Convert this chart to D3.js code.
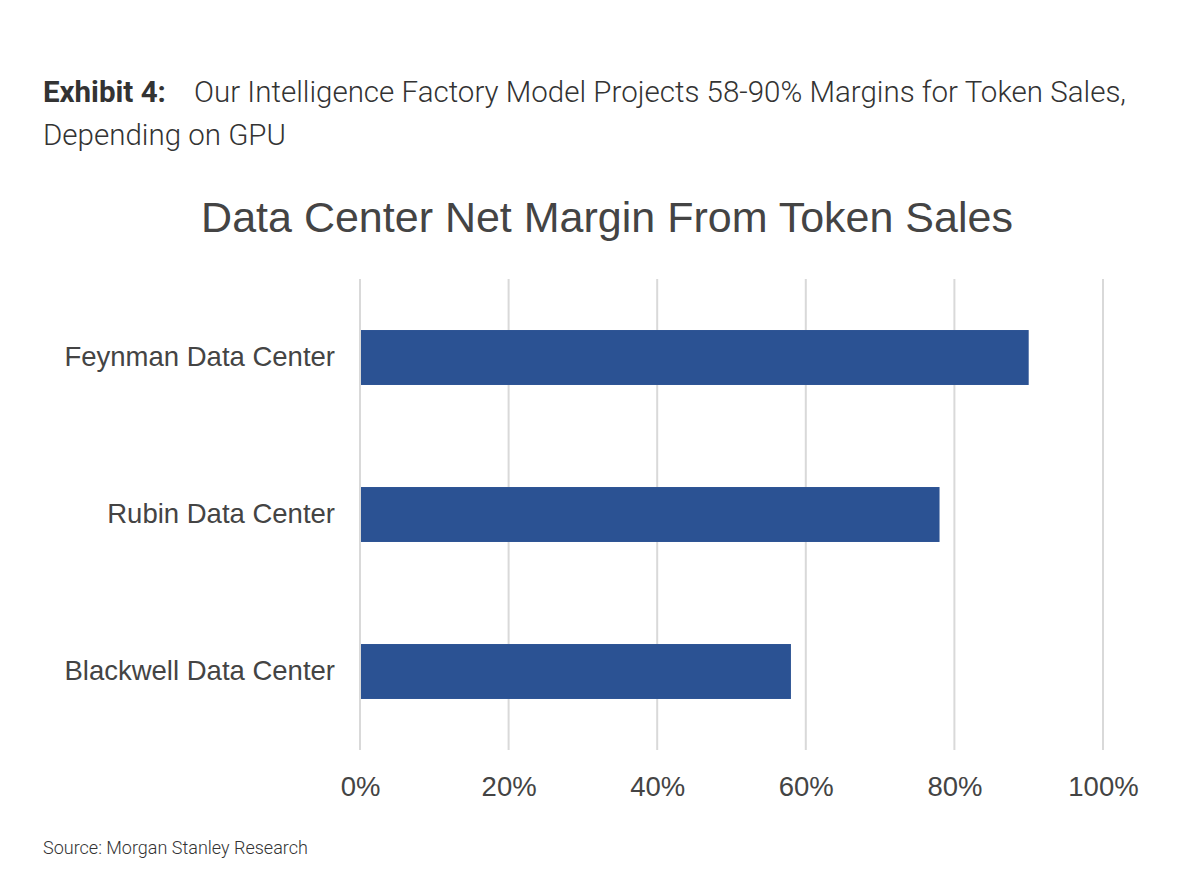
<!DOCTYPE html>
<html>
<head>
<meta charset="utf-8">
<script src="https://cdn.jsdelivr.net/npm/d3@7"></script>
<style>
  body { margin: 0; background: #fff; }
  svg { display: block; }
</style>
</head>
<body>
<svg id="chart" width="1200" height="871"></svg>
<script>
// data
var categories = ["Feynman Data Center", "Rubin Data Center", "Blackwell Data Center"];
var margins = [0.90, 0.78, 0.58];
var tickValues = [0, 0.2, 0.4, 0.6, 0.8, 1.0];

var svg = d3.select("#chart");
var plot = { left: 360, right: 1103, top: 279, bottom: 750 };

// header text
svg.append("text")
  .attr("x", 43).attr("y", 102)
  .style("font-family", "Roboto").style("font-size", "29.5px").style("fill", "#333")
  .call(t => {
    t.append("tspan").style("font-weight", "bold").text("Exhibit 4:");
    t.append("tspan").attr("x", 194)
      .style("font-weight", "300")
      .text("Our Intelligence Factory Model Projects 58-90% Margins for Token Sales,");
  });
svg.append("text")
  .attr("x", 43).attr("y", 145)
  .style("font-family", "Roboto").style("font-size", "29.5px").style("font-weight", "300").style("fill", "#333")
  .text("Depending on GPU");

svg.append("text")
  .attr("x", 607).attr("y", 232)
  .attr("text-anchor", "middle")
  .style("font-family", "Liberation Sans, Arial").style("font-size", "43px").style("fill", "#444")
  .text("Data Center Net Margin From Token Sales");

var x = d3.scaleLinear().domain([0, 1]).range([plot.left, plot.right]);
var y = d3.scaleBand().domain(categories).range([plot.top, plot.bottom]).paddingInner(0.65).paddingOuter(0.325);

// gridlines
svg.append("g")
  .selectAll("line")
  .data(tickValues)
  .enter()
  .append("line")
  .attr("x1", d => x(d)).attr("x2", d => x(d))
  .attr("y1", plot.top).attr("y2", plot.bottom)
  .attr("stroke", "#d9d9d9")
  .attr("stroke-width", 2);

// bars
svg.append("g")
  .selectAll("rect")
  .data(categories)
  .enter()
  .append("rect")
  .attr("x", x(0) + 1)
  .attr("y", d => y(d))
  .attr("width", (d, i) => x(margins[i]) - x(0) - 1)
  .attr("height", y.bandwidth())
  .attr("fill", "#2b5293");

// x axis labels
var xAxis = d3.axisBottom(x).tickValues(tickValues).tickFormat(d3.format(".0%")).tickSize(0).tickPadding(0);
svg.append("g")
  .attr("transform", `translate(0,${plot.bottom})`)
  .call(xAxis)
  .call(g => g.select(".domain").remove())
  .selectAll("text")
  .attr("dy", 0).attr("y", 46)
  .style("font-family", "Liberation Sans, Arial").style("font-size", "27.5px").style("fill", "#444");

// y axis labels
var yAxis = d3.axisLeft(y).tickSize(0).tickPadding(25);
svg.append("g")
  .attr("transform", `translate(${plot.left},0)`)
  .call(yAxis)
  .call(g => g.select(".domain").remove())
  .selectAll("text")
  .style("font-family", "Liberation Sans, Arial").style("font-size", "27.5px").style("fill", "#444");

svg.append("text")
  .attr("x", 43).attr("y", 854)
  .style("font-family", "Roboto").style("font-size", "18px").style("font-weight", "300").style("fill", "#333")
  .text("Source: Morgan Stanley Research");
</script>
</body>
</html>
